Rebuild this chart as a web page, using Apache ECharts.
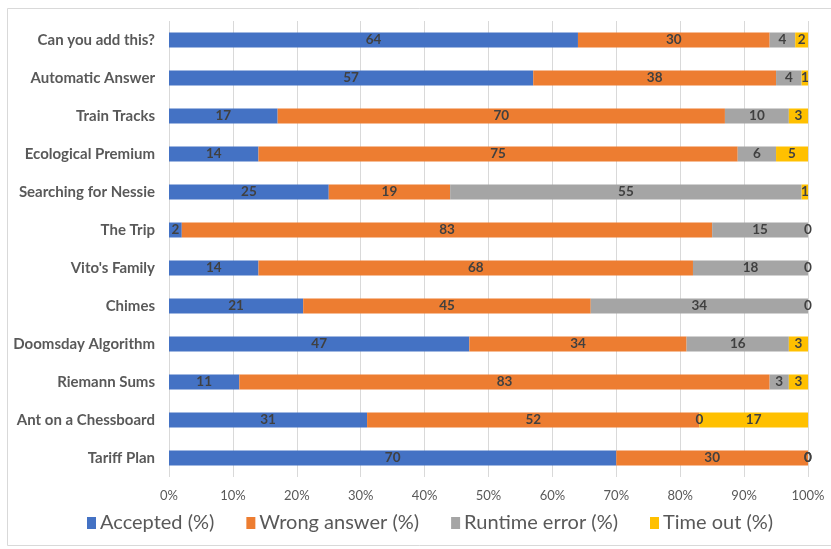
<!DOCTYPE html>
<html>
<head>
<meta charset="utf-8">
<script src="https://cdn.jsdelivr.net/npm/echarts@6/dist/echarts.min.js"></script>
<style>
  html, body { margin: 0; padding: 0; background: #fff; }
  #chart { width: 831px; height: 549px; }
</style>
</head>
<body>
<div id="chart"></div>
<script>
// Problems, listed top to bottom
const problems = [
  'Can you add this?', 'Automatic Answer', 'Train Tracks', 'Ecological Premium',
  'Searching for Nessie', 'The Trip', "Vito's Family", 'Chimes',
  'Doomsday Algorithm', 'Riemann Sums', 'Ant on a Chessboard', 'Tariff Plan'
];
const accepted     = [64, 57, 17, 14, 25,  2, 14, 21, 47, 11, 31, 70];
const wrongAnswer  = [30, 38, 70, 75, 19, 83, 68, 45, 34, 83, 52, 30];
const runtimeError = [ 4,  4, 10,  6, 55, 15, 18, 34, 16,  3,  0,  0];
const timeOut      = [ 2,  1,  3,  5,  1,  0,  0,  0,  3,  3, 17,  0];
const percentTicks = ['0%', '10%', '20%', '30%', '40%', '50%', '60%', '70%', '80%', '90%', '100%'];

const seriesDefs = [
  { name: 'Accepted (%)',      data: accepted,     color: '#4472C4' },
  { name: 'Wrong answer (%)',  data: wrongAnswer,  color: '#ED7D31' },
  { name: 'Runtime error (%)', data: runtimeError, color: '#A5A5A5' },
  { name: 'Time out (%)',      data: timeOut,      color: '#FFC000' }
];

// category axis runs bottom-up, so reverse to keep the first problem on top
const cats = problems.slice().reverse();

const chart = echarts.init(document.getElementById('chart'), null, { renderer: 'canvas' });
chart.setOption({
  animation: false,
  backgroundColor: '#fff',
  textStyle: { fontFamily: 'Lato' },
  graphic: [{
    type: 'rect',
    shape: { x: 7.5, y: 8.5, width: 840, height: 537 },
    style: { fill: 'none', stroke: '#D9D9D9', lineWidth: 1 },
    silent: true
  }],
  grid: { left: 169, right: 23, top: 21, bottom: 72, containLabel: false },
  xAxis: {
    type: 'value',
    min: 0, max: 100, interval: 10,
    axisLine: { show: false },
    axisTick: { show: false },
    splitLine: { show: true, lineStyle: { color: '#D9D9D9', width: 1 } },
    axisLabel: {
      color: '#595959', fontSize: 13, margin: 12,
      formatter: v => percentTicks[Math.round(v / 10)]
    }
  },
  yAxis: {
    type: 'category',
    data: cats,
    axisLine: { show: false },
    axisTick: { show: false },
    axisLabel: { color: '#595959', fontSize: 15, fontWeight: 'bold', margin: 14 }
  },
  legend: {
    bottom: 11, left: 82,
    itemWidth: 9, itemHeight: 12, itemGap: 32,
    icon: 'rect',
    textStyle: { color: '#595959', fontSize: 20, padding: [0, 0, 0, -1] },
    data: seriesDefs.map(s => s.name)
  },
  series: seriesDefs.map(s => ({
    name: s.name,
    type: 'bar',
    stack: 'total',
    barWidth: 15,
    data: s.data.slice().reverse(),
    itemStyle: { color: s.color },
    label: {
      show: true,
      position: 'inside',
      color: '#404040',
      fontSize: 13.5,
      fontWeight: 'bold'
    }
  }))
});
</script>
</body>
</html>
